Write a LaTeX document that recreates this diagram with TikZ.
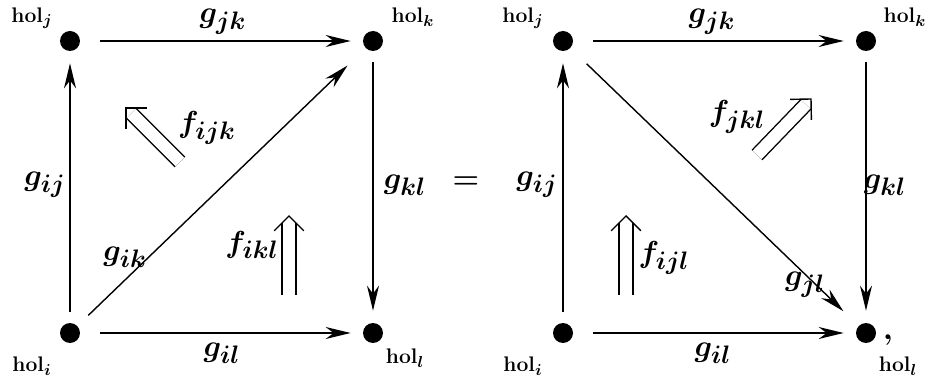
\documentclass[tikz,border=0pt]{standalone}
\usepackage{amsmath, amssymb, bm}
\usetikzlibrary{arrows.meta, calc}

\begin{document}
\begin{tikzpicture}[>={Stealth[length=0.5cm,width=0.24cm,inset=0.16cm]}, x=0.02cm, y=-0.02cm,
    dot/.style={circle,fill,inner sep=0pt,minimum size=0.4cm},
    hol/.style={font=\boldmath\fontsize{13}{16}\selectfont},
    lbl/.style={font=\boldmath\fontsize{19}{23}\selectfont},
    edge/.style={->,line width=0.8pt,shorten <=0.22cm,shorten >=0.24cm},
    twoline/.style={double,double distance=7pt,line width=0.8pt,shorten >=0.15cm},
    chevron/.style={line width=0.8pt}]
  \useasboundingbox (0,0) rectangle (930,381);
  % left square
  \node[dot] (j1) at (70,41) {};
  \node[dot] (k1) at (373,41) {};
  \node[dot] (i1) at (70,333) {};
  \node[dot] (l1) at (373,333) {};
  \node[hol] (hj1) at (32,18) {$\mathrm{hol}_j$};
  \node[hol] (hk1) at (413,17) {$\mathrm{hol}_k$};
  \node[hol] (hi1) at (32,366) {$\mathrm{hol}_i$};
  \node[hol] (hl1) at (405,358) {$\mathrm{hol}_l$};
  \draw[edge] (i1) -- (j1);
  \draw[edge,shorten <=0.4cm] (j1) -- (k1);
  \draw[edge,shorten <=0.3cm,shorten >=0.5cm] (i1) -- (k1);
  \draw[edge] (k1) -- (l1);
  \draw[edge,shorten <=0.4cm] (i1) -- (l1);
  \node[lbl] (gjk1) at (223,22) {$g_{jk}$};
  \node[lbl] (gij1) at (45,185) {$g_{ij}$};
  \node[lbl] (gik1) at (125,257) {$g_{ik}$};
  \node[lbl] (gkl1) at (405,185) {$g_{kl}$};
  \node[lbl] (gil1) at (222,353) {$g_{il}$};
  % 2-cells, left
  \coordinate (a1) at (180,162);
  \coordinate (b1) at (126,108);
  \draw[twoline] (a1) -- (b1);
  \draw[chevron] ($(b1)!0.42cm!45:(a1)$) -- (b1) -- ($(b1)!0.42cm!-45:(a1)$);
  \node[lbl] (fijk) at (207,128) {$f_{ijk}$};
  \coordinate (c1) at (289,295);
  \coordinate (d1) at (289,216);
  \draw[twoline] (c1) -- (d1);
  \draw[chevron] ($(d1)!0.42cm!45:(c1)$) -- (d1) -- ($(d1)!0.42cm!-45:(c1)$);
  \node[lbl] (fikl) at (252,245) {$f_{ikl}$};
  % equals
  \node[lbl] (eq) at (466,183) {$=$};
  % right square
  \node[dot] (j2) at (563,41) {};
  \node[dot] (k2) at (866,41) {};
  \node[dot] (i2) at (563,333) {};
  \node[dot] (l2) at (866,333) {};
  \node[hol] (hj2) at (523,18) {$\mathrm{hol}_j$};
  \node[hol] (hk2) at (905,17) {$\mathrm{hol}_k$};
  \node[hol] (hi2) at (523,366) {$\mathrm{hol}_i$};
  \node[hol] (hl2) at (898,366) {$\mathrm{hol}_l$};
  \node[lbl] (comma) at (888,340) {$,$};
  \draw[edge] (i2) -- (j2);
  \draw[edge,shorten <=0.4cm] (j2) -- (k2);
  \draw[edge,shorten <=0.45cm,shorten >=0.42cm] (j2) -- (l2);
  \draw[edge] (k2) -- (l2);
  \draw[edge,shorten <=0.4cm] (i2) -- (l2);
  \node[lbl] (gjk2) at (712,22) {$g_{jk}$};
  \node[lbl] (gij2) at (537,185) {$g_{ij}$};
  \node[lbl] (gjl2) at (805,285) {$g_{jl}$};
  \node[lbl] (gkl2) at (885,185) {$g_{kl}$};
  \node[lbl] (gil2) at (713,353) {$g_{il}$};
  % 2-cells, right
  \coordinate (c2) at (626,295);
  \coordinate (d2) at (626,216);
  \draw[twoline] (c2) -- (d2);
  \draw[chevron] ($(d2)!0.42cm!45:(c2)$) -- (d2) -- ($(d2)!0.42cm!-45:(c2)$);
  \node[lbl] (fijl) at (664,258) {$f_{ijl}$};
  \coordinate (a2) at (757,155);
  \coordinate (b2) at (811,99);
  \draw[twoline] (a2) -- (b2);
  \draw[chevron] ($(b2)!0.42cm!45:(a2)$) -- (b2) -- ($(b2)!0.42cm!-45:(a2)$);
  \node[lbl] (fjkl) at (737,117) {$f_{jkl}$};
\end{tikzpicture}
\end{document}
